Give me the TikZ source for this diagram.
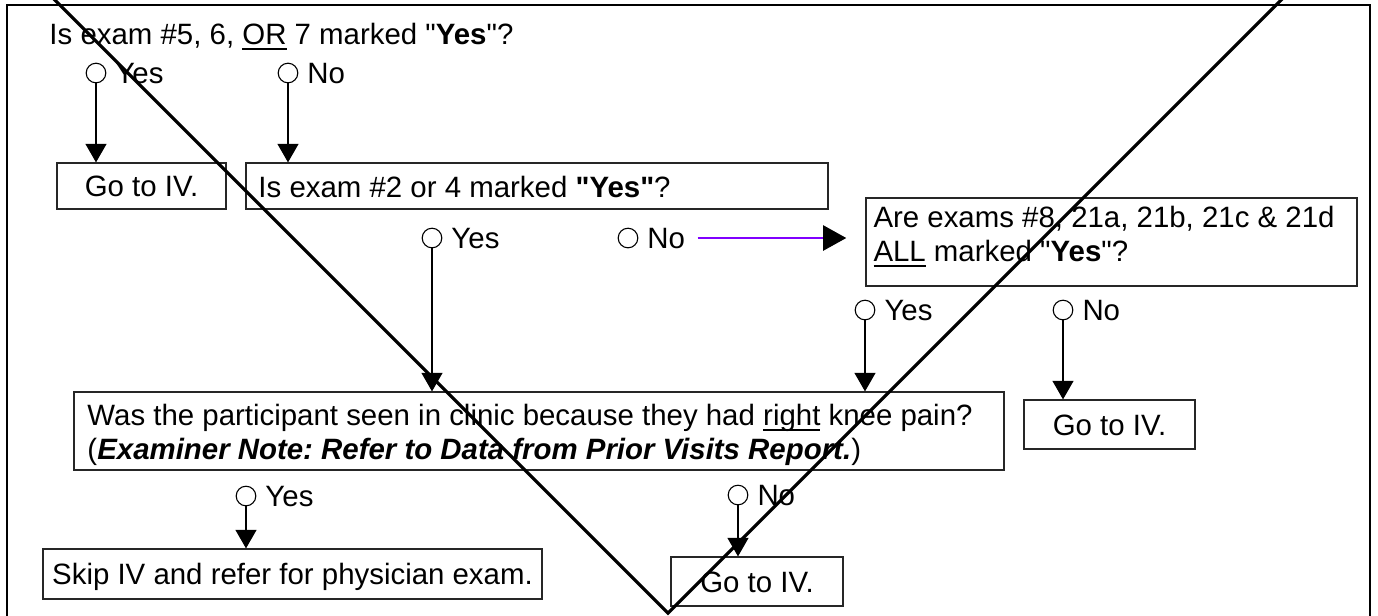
\documentclass[tikz,border=0pt]{standalone}
\usepackage{fontspec}
\setmainfont{Liberation Sans}[Ligatures=TeXOff]
\usetikzlibrary{arrows.meta,fit}
\definecolor{purp}{RGB}{128,0,255}
\newcommand\myul[1]{\setbox0\hbox{#1}\rlap{\rule[-2.3pt]{\wd0}{0.85pt}}\box0\relax}
\frenchspacing
\begin{document}
\begin{tikzpicture}[x=0.408pt,y=-0.408pt,
  font=\fontsize{12}{13.8}\selectfont,
  box/.style={draw=black!85, line width=0.5pt, inner sep=0pt},
  txt/.style={inner sep=0pt, anchor=base west},
  ctxt/.style={inner sep=0pt, anchor=base},
  opt/.style={draw, circle, line width=0.45pt, inner sep=0pt, minimum size=8pt},
  flow/.style={line width=0.5pt, -{Triangle[length=7.6pt,width=8.6pt]}},
  strike/.style={line width=1.3pt, line join=miter},
  frame/.style={line width=0.9pt}]
\useasboundingbox (0,0) rectangle (1378,615);
\clip (0,0) rectangle (1378,615);
% outer frame
\coordinate (f1) at (7,5);
\coordinate (f2) at (1370,640);
\draw[frame] (f1) rectangle (f2);
% title
\node[txt] (title) at (49,44) {Is exam \#5, 6, \myul{OR} 7 marked "\textbf{Yes}"?};
% row 1
\node[opt] (cY1) at (96,73) {};
\node[txt] (tY1) at (115,83) {Yes};
\node[opt] (cN1) at (288,73) {};
\node[txt] (tN1) at (307,83) {No};
% boxes row 1
\coordinate (a1) at (57,163); \coordinate (a2) at (226,209);
\node[box, fit=(a1)(a2)] (goA) {};
\node[ctxt] (goAt) at ([yshift=-4.3pt]goA.center) {Go to IV.};
\coordinate (b1) at (246,163); \coordinate (b2) at (828,209);
\node[box, fit=(b1)(b2)] (q2) {};
\node[txt] (q2t) at (258,197) {Is exam \#2 or 4 marked \textbf{"Yes"}?};
\draw[flow] (cY1.south) -- (cY1.south |- goA.north);
\draw[flow] (cN1.south) -- (cN1.south |- q2.north);
% row 2
\node[opt] (cY2) at (432,238) {};
\node[txt] (tY2) at (451,248) {Yes};
\node[opt] (cN2) at (628,238) {};
\node[txt] (tN2) at (647,248) {No};
\coordinate (c1) at (866,198); \coordinate (c2) at (1357,286);
\node[box, fit=(c1)(c2)] (q3) {};
\node[txt] (q3t1) at (873,227) {Are exams \#8, 21a, 21b, 21c \& 21d};
\node[txt] (q3t2) at (873,261) {\myul{ALL} marked "\textbf{Yes}"?};
\draw[purp, line width=0.9pt, shorten <=4.9pt, -{Triangle[length=9.4pt,width=10.2pt,color=black]}, shorten >=7.8pt]
  (cN2 -| tN2.east) -- (cN2 -| q3.west);
% row 3
\node[opt] (cY3) at (865,310) {};
\node[txt] (tY3) at (884,320) {Yes};
\node[opt] (cN3) at (1063,310) {};
\node[txt] (tN3) at (1082,320) {No};
\coordinate (d1) at (74,392); \coordinate (d2) at (1004,470);
\node[box, fit=(d1)(d2)] (q4) {};
\node[txt] (q4t1) at (87,425) {Was the participant seen in clinic because they had \myul{right} knee pain?};
\node[txt] (q4t2) at (87,459) {(\textbf{\textit{Examiner Note: Refer to Data from Prior Visits Report.}})};
\coordinate (e1) at (1024,400); \coordinate (e2) at (1195,449);
\node[box, fit=(e1)(e2)] (goB) {};
\node[ctxt] (goBt) at ([yshift=-4.3pt]goB.center) {Go to IV.};
\draw[flow] (cY2.south) -- (cY2.south |- q4.north);
\draw[flow] (cY3.south) -- (cY3.south |- q4.north);
\draw[flow] (cN3.south) -- (cN3.south |- goB.north);
% row 4
\node[opt] (cY4) at (246,496) {};
\node[txt] (tY4) at (265,506) {Yes};
\node[opt] (cN4) at (738,495) {};
\node[txt] (tN4) at (757,505) {No};
\coordinate (g1) at (43,549); \coordinate (g2) at (542,599);
\node[box, fit=(g1)(g2)] (skip) {};
\node[ctxt] (skipt) at ([yshift=-4.1pt]skip.center) {Skip IV and refer for physician exam.};
\coordinate (h1) at (671,557); \coordinate (h2) at (843,606);
\node[box, fit=(h1)(h2)] (goC) {};
\node[ctxt] (goCt) at ([yshift=-4.3pt]goC.center) {Go to IV.};
\draw[flow] (cY4.south) -- (cY4.south |- skip.north);
\draw[flow] (cN4.south) -- (cN4.south |- goC.north);
% strike-through V
\coordinate (v1) at (40,-15);
\coordinate (v2) at (668,613);
\coordinate (v3) at (1296,-15);
\draw[strike] (v1) -- (v2) -- (v3);
\end{tikzpicture}
\end{document}
